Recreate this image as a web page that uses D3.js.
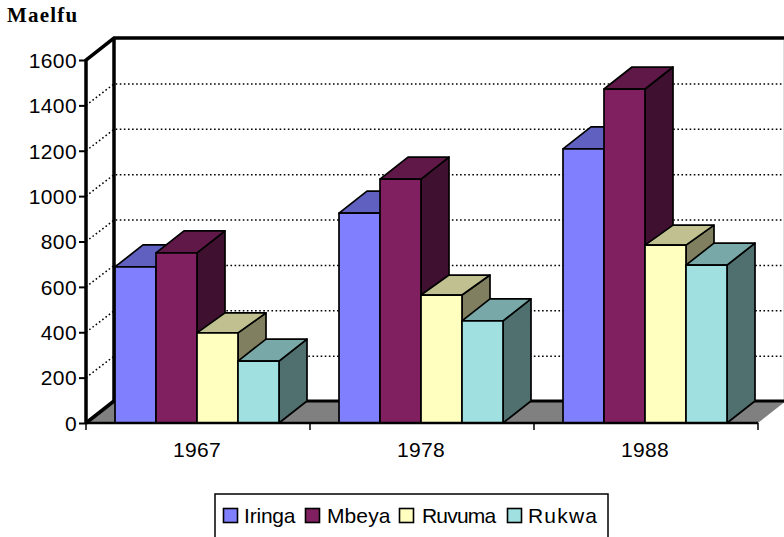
<!DOCTYPE html>
<html><head><meta charset="utf-8">
<script src="https://cdn.jsdelivr.net/npm/d3@7"></script>
<style>html,body{margin:0;padding:0;background:#fff}svg{display:block}text{fill:#000}</style>
</head><body><svg id="c" width="784" height="537"></svg>
<script>
const categories = ["1967","1978","1988"];
const seriesNames = ["Iringa","Mbeya","Ruvuma","Rukwa"];
const iringa = [688,925,1208];
const mbeya = [750,1075,1472];
const ruvuma = [397,564,784];
const rukwa = [273,450,696];
const seriesValues = [iringa,mbeya,ruvuma,rukwa];
const yTicks = [0,200,400,600,800,1000,1200,1400,1600];
const frontColors = ["#8080ff","#802060","#ffffc0","#a0e0e0"];
const topColors = ["#6060c0","#601848","#c0c090","#78a8a8"];
const sideColors = ["#404080","#401030","#808060","#507070"];

const svg = d3.select("#c");
const dx = 28, dy = -22;
const barDepthY = [-22,-22,-20,-22];
const x0 = 86, x1 = 758, y0 = 423, y1 = 60;
const y = d3.scaleLinear().domain([0,1600]).range([y0,y1]);
const xTickScale = d3.scaleBand().domain(categories).range([x0,x1]);
const xGroup = d3.scaleBand().domain(categories).range([x0-1,x1-1]).paddingInner(60/224).paddingOuter(30/224);
const xBar = d3.scaleBand().domain(seriesNames).range([0,xGroup.bandwidth()]);
const poly = pts => "M"+pts.map(p=>p.join(",")).join("L")+"Z";

// floor
svg.append("path").attr("d",poly([[x0,y0],[x0+dx,y0+dy],[x1+dx,y0+dy],[x1,y0]]))
  .attr("fill","#808080").attr("stroke","none");
// right gray frame
svg.append("path").attr("d",`M${x1+dx-1.5},${y1+dy}V${y0+dy}`).attr("fill","none").attr("stroke","#808080").attr("stroke-width",1.5);

// gridlines
const g = svg.append("g");
yTicks.filter(t=>t>0&&t<1600).forEach(t=>{
  g.append("path").attr("d",`M${x0},${y(t)}L${x0+dx},${y(t)+dy+0.6}H${x1+dx}`)
   .attr("fill","none").attr("stroke","#000").attr("stroke-width",1.5).attr("stroke-dasharray","1.6 2.5");
});
// walls
const wall = svg.append("g").attr("fill","none").attr("stroke","#000").attr("stroke-width",3.5);
wall.append("path").attr("d",`M${x0},${y0}L${x0+dx},${y0+dy}`);
wall.append("path").attr("d",`M${x0+dx},${y0+dy}V${y1+dy}`);
wall.append("path").attr("d",`M${x0},${y0}V${y1}L${x0+dx},${y1+dy}H${x1+dx}`);
svg.append("path").attr("d",`M${x0+dx},${y0+dy}H${x1+dx}`).attr("stroke","#000").attr("stroke-width",3);

// bars
categories.forEach((c,ci)=>{
  seriesNames.forEach((s,si)=>{
    const v = seriesValues[si][ci];
    const d = barDepthY[si];
    const bx = xGroup(c)+xBar(s), w = xBar.bandwidth(), t = y(v), b = y(0);
    const bar = svg.append("g").attr("stroke","#000").attr("stroke-width",1.7).attr("stroke-linejoin","round");
    bar.append("path").attr("d",poly([[bx+w,t],[bx+w+dx,t+d],[bx+w+dx,b+d],[bx+w,b]])).attr("fill",sideColors[si]);
    bar.append("path").attr("d",poly([[bx,t],[bx+dx,t+d],[bx+w+dx,t+d],[bx+w,t]])).attr("fill",topColors[si]);
    bar.append("rect").attr("x",bx).attr("y",t).attr("width",w).attr("height",b-t).attr("fill",frontColors[si]);
  });
});

// axis lines
svg.append("path").attr("d",`M${x0},${y0}H${x1}`).attr("stroke","#000").attr("stroke-width",2.5);
const font = "'Liberation Sans',Arial,sans-serif";
const yAxis = d3.axisLeft(y).tickValues(yTicks).tickSize(7).tickFormat(d3.format("d"));
const ya = svg.append("g").attr("transform",`translate(${x0},0)`).call(yAxis);
ya.select(".domain").remove();
ya.selectAll("line").attr("stroke","#000").attr("stroke-width",2);
ya.selectAll("text").attr("font-family",font).attr("font-size",21).attr("letter-spacing",0.4).attr("x",-9).attr("dy","0.35em").style("fill","#000");
const xTicks = categories.map(c=>xTickScale(c)).concat([x1]);
svg.append("g").selectAll("line").data(xTicks).join("line")
  .attr("x1",d=>d).attr("x2",d=>d).attr("y1",y0).attr("y2",y0+7).attr("stroke","#000").attr("stroke-width",1.5);
svg.append("g").selectAll("text").data(categories).join("text")
  .attr("x",c=>xTickScale(c)+xTickScale.bandwidth()/2-1).attr("y",457).attr("text-anchor","middle")
  .attr("font-family",font).attr("font-size",21).attr("letter-spacing",0.3).text(c=>c);

svg.append("text").attr("x",7).attr("y",22).attr("font-family","'Liberation Serif',serif").attr("font-weight","bold")
  .attr("font-size",21).attr("letter-spacing",1.2).text("Maelfu");

// legend
svg.append("rect").attr("x",215).attr("y",494).attr("width",393).attr("height",44).attr("fill","#fff").attr("stroke","#000").attr("stroke-width",1.5);
const legendX = [223.5,305.5,399.5,507.5];
const legendTextX = [244,327,422,528];
const legendSpacing = [-0.2,0.1,-0.8,1.2];
seriesNames.forEach((s,i)=>{
  svg.append("rect").attr("x",legendX[i]).attr("y",508.5).attr("width",14).attr("height",14)
    .attr("fill",frontColors[i]).attr("stroke","#000").attr("stroke-width",1.6);
  svg.append("text").attr("x",legendTextX[i]).attr("y",523).attr("font-family",font).attr("font-size",21)
    .attr("letter-spacing",legendSpacing[i]).text(s);
});
</script></body></html>
